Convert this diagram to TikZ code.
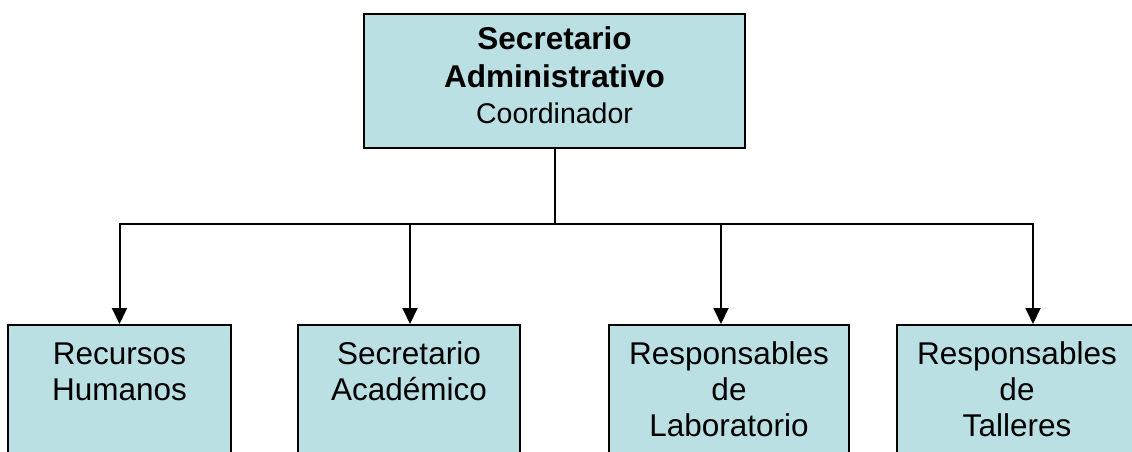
\documentclass[tikz,border=0pt]{standalone}
\usepackage{fontspec}
\setmainfont{Liberation Sans}
\usetikzlibrary{arrows.meta}
\definecolor{cajaazul}{RGB}{186,224,227}

\begin{document}
\begin{tikzpicture}[x=1pt, y=-1pt,
caja/.style={draw=black, line width=2pt, fill=cajaazul, anchor=north,
  inner xsep=0pt, align=center, font=\fontsize{31.5}{36}\selectfont},
jefe/.style={caja, text width=#1, text height=22pt, text depth=86pt, inner ysep=13pt},
cargo/.style={caja, text width=#1, text height=23pt, text depth=100pt, inner ysep=16pt},
linea/.style={black, line width=2pt},
flecha/.style={linea, -{Triangle[length=16pt, width=15pt]}}]

\useasboundingbox (0,0) rectangle (1132,452);
\clip (0,0) rectangle (1132,452);

\def\ytop{13}
\def\ybus{224}
\def\yunit{324}

% BOXES
\node[jefe=381pt] (coord) at (554.5,\ytop)
  {{\bfseries\fontsize{31.5}{38}\selectfont Secretario\\Administrativo\par}
   \fontsize{28.5}{33}\selectfont Coordinador};

\node[cargo=223pt] (rh)  at (119.5,\yunit) {Recursos\\Humanos};
\node[cargo=222pt] (sa)  at (409,\yunit)   {Secretario\\Académico};
\node[cargo=240pt] (lab) at (729,\yunit)   {Responsables\\de\\Laboratorio};
\node[cargo=240pt] (tal) at (1017,\yunit)  {Responsables\\de\\Talleres};

% connectors
\coordinate (bus) at (coord.south |- 0,\ybus);
\draw[linea] (coord.south) -- (bus);
\foreach \n/\dx in {rh/0,sa/1,lab/-8,tal/16}{
    \draw[flecha] (bus) -| ([xshift=\dx pt]\n.north);
}

\end{tikzpicture}
\end{document}
